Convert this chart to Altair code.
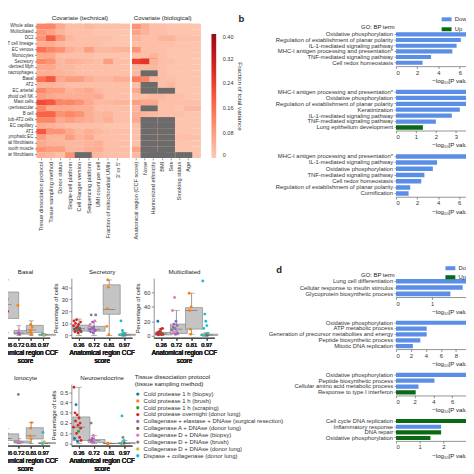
import altair as alt
import pandas as pd

FONT = "Liberation Sans"
INK = "#222222"
AXIS = "#444444"
BLUE = "#5b8ee6"
GREEN = "#0a6a14"
MISSING = "#6b6b6b"
BOXFILL = "#c4c4c4"
BOXLINE = "#7a7a7a"
WHISK = "#6a6a6a"
N = None

# ---------------- heatmap (panel a) ----------------
cell_types = ["Whole atlas", "Multiciliated", "DC2", "T cell lineage", "EC venous", "Monocytes",
              "Secretory", "Monocyte-derived Mph", "Alveolar macrophages", "Basal", "AT2",
              "EC arterial", "Innate lymphoid cell NK", "Mast cells", "Interstitial Mph perivascular",
              "B cell", "Transitional club-AT2 cells", "EC capillary", "AT1", "Lymphatic EC",
              "Adventitial fibroblasts", "Smooth muscle", "Alveolar fibroblasts"]
tech_covariates = ["Tissue dissociation protocol", "Tissue sampling method", "Donor status",
                   "Single-cell platform", "Cell Ranger version", "Sequencing platform",
                   "UMI count per cell", "Fraction of mitochondrial UMIs", "3′ or 5′"]
bio_covariates = ["Anatomical region (CCF score)", "Nose", "Harmonized ethnicity", "BMI", "Sex",
                  "Smoking status", "Age"]
tech_values = [
    [0.12, 0.12, 0.06, 0.02, 0.02, 0.03, 0.02, 0.02, 0.02],
    [0.09, 0.07, 0.04, 0.02, 0.02, 0.02, 0.01, 0.01, 0.01],
    [0.10, 0.19, 0.09, 0.03, 0.02, 0.02, 0.02, 0.02, 0.01],
    [0.05, 0.05, 0.03, 0.02, 0.02, 0.02, 0.02, 0.01, 0.01],
    [0.16, 0.12, 0.10, 0.05, 0.03, 0.08, 0.03, 0.03, 0.04],
    [0.06, 0.06, 0.02, 0.02, 0.02, 0.02, 0.01, 0.01, 0.01],
    [0.12, 0.10, 0.03, 0.05, 0.04, 0.03, 0.02, 0.08, 0.02],
    [0.06, 0.06, 0.03, 0.03, 0.02, 0.02, 0.02, 0.02, 0.02],
    [0.05, 0.05, 0.04, 0.03, 0.02, 0.02, 0.02, 0.02, 0.02],
    [0.16, 0.20, 0.06, 0.08, 0.08, 0.05, 0.03, 0.03, 0.05],
    [0.04, 0.04, 0.03, 0.02, 0.02, 0.02, 0.02, 0.02, 0.02],
    [0.12, 0.08, 0.08, 0.04, 0.05, 0.06, 0.03, 0.02, 0.02],
    [0.08, 0.06, 0.05, 0.05, 0.05, 0.05, 0.06, 0.02, 0.02],
    [0.22, 0.20, 0.12, 0.12, 0.10, 0.06, 0.03, 0.03, 0.04],
    [0.12, 0.06, 0.06, 0.06, 0.05, 0.05, 0.02, 0.02, 0.02],
    [0.18, 0.18, 0.10, 0.12, 0.10, 0.05, 0.03, 0.04, 0.02],
    [0.12, 0.12, 0.06, 0.08, 0.06, 0.05, 0.03, 0.05, 0.02],
    [0.05, 0.04, 0.03, 0.02, 0.02, 0.02, 0.02, 0.01, 0.01],
    [0.20, 0.10, 0.10, 0.06, 0.03, 0.05, 0.03, 0.02, 0.02],
    [0.08, 0.04, 0.04, 0.08, 0.04, 0.06, 0.02, 0.02, 0.02],
    [0.06, 0.04, 0.04, 0.03, 0.03, 0.04, 0.05, 0.02, 0.02],
    [0.10, 0.08, 0.08, 0.03, 0.03, 0.05, 0.05, 0.02, 0.02],
    [0.05, 0.04, 0.02, 0.10, N, 0.04, 0.03, 0.02, 0.02],
]
bio_values = [
    [0.10, 0.05, 0.02, 0.02, 0.01, 0.01, 0.01],
    [0.07, 0.04, 0.02, 0.02, 0.01, 0.01, 0.01],
    [0.04, 0.02, 0.02, 0.04, 0.04, 0.02, 0.02],
    [0.02, 0.02, 0.02, 0.02, 0.02, 0.01, 0.01],
    [0.10, 0.02, 0.02, 0.02, 0.01, 0.01, 0.01],
    [0.02, 0.02, 0.04, 0.02, 0.01, 0.01, 0.01],
    [0.24, 0.26, 0.04, 0.02, 0.02, 0.01, 0.01],
    [0.03, 0.03, 0.03, 0.02, 0.01, 0.01, 0.01],
    [0.03, N, 0.04, 0.02, 0.01, 0.01, 0.01],
    [0.14, 0.12, 0.04, 0.02, 0.02, 0.01, 0.01],
    [0.02, N, 0.04, 0.02, 0.03, 0.01, 0.01],
    [0.06, N, 0.02, N, 0.03, 0.01, 0.01],
    [0.02, 0.02, 0.03, 0.03, 0.02, 0.02, 0.01],
    [0.08, 0.06, 0.06, 0.02, 0.02, 0.02, 0.02],
    [0.04, N, 0.02, 0.02, 0.02, 0.01, 0.03],
    [0.05, 0.04, 0.03, 0.02, 0.02, 0.02, 0.01],
    [0.06, N, 0.03, N, 0.02, 0.01, 0.01],
    [0.02, N, 0.12, N, 0.04, 0.01, 0.01],
    [0.02, N, 0.04, N, 0.02, 0.01, 0.01],
    [0.02, N, 0.02, N, 0.02, 0.02, 0.02],
    [0.02, N, 0.10, N, 0.04, 0.01, 0.01],
    [0.07, N, 0.03, N, 0.02, 0.01, 0.01],
    [0.03, N, N, N, 0.02, N, 0.01],
]
variance_ticks = [0, 0.08, 0.16, 0.24, 0.32, 0.40]

# ---------------- GO bar charts (panels b, d) ----------------
b1_terms = ["Oxidative phosphorylation", "Regulation of establishment of planar polarity",
            "IL-1-mediated signaling pathway", "MHC-I antigen processing and presentation*",
            "TNF-mediated signaling pathway", "Cell redox homeostasis"]
b1_values = [8.6, 6.1, 5.7, 5.3, 3.3, 2.5]
b1_dirs = ["Down"] * 6
b2_terms = ["MHC-I antigen processing and presentation*", "Oxidative phosphorylation",
            "Regulation of establishment of planar polarity", "Keratinization",
            "IL-1-mediated signaling pathway", "TNF-mediated signaling pathway",
            "Lung epithelium development"]
b2_values = [5.2, 4.9, 4.6, 3.2, 2.8, 2.0, 1.35]
b2_dirs = ["Down"] * 6 + ["Up"]
b3_terms = ["MHC-I antigen processing and presentation*", "IL-1-mediated signaling pathway",
            "Oxidative phosphorylation", "TNF-mediated signaling pathway", "Cell redox homeostasis",
            "Regulation of establishment of planar polarity", "Cornification"]
b3_values = [9.4, 3.9, 3.5, 2.7, 2.4, 1.35, 1.2]
b3_dirs = ["Down"] * 7
d1_terms = ["Lung cell differentiation", "Cellular response to insulin stimulus",
            "Glycoprotein biosynthetic process"]
d1_values = [2.4, 1.84, 1.5]
d1_dirs = ["Down"] * 3
d2_terms = ["Oxidative phosphorylation", "ATP metabolic process",
            "Generation of precursor metabolites and energy", "Peptide biosynthetic process",
            "Mitotic DNA replication"]
d2_values = [12.0, 4.1, 4.1, 3.25, 2.25]
d2_dirs = ["Down"] * 5
d3_terms = ["Oxidative phosphorylation", "Peptide biosynthetic process",
            "Cellular amino acid metabolic process", "Response to type I interferon"]
d3_values = [9.0, 4.1, 2.4, 2.1]
d3_dirs = ["Down", "Down", "Down", "Up"]
d4_terms = ["Cell cycle DNA replication", "Inflammatory response", "DNA repair",
            "Oxidative phosphorylation"]
d4_values = [3.4, 1.9, 1.9, 1.45]
d4_dirs = ["Up", "Down", "Up", "Up"]
directions = ["Down", "Up"]

# ---------------- box plots (panel c) ----------------
ccf_levels = ["0.36", "0.72", "0.81", "0.97"]
protocols = ["Cold protease 1 h (biopsy)", "Cold protease 1 h (brush)",
             "Cold protease 1 h (scraping)", "Cold protease overnight (donor lung)",
             "Collagenase + elastase + DNAse (surgical resection)", "Collagenase A + DNAse (donor lung)",
             "Collagenase D + DNAse (biopsy)", "Collagenase D + DNAse (brush)",
             "Collagenase D + DNAse (donor lung)", "Dispase + collagenase (donor lung)"]
protocol_colors = ["#1f77b4", "#ff7f0e", "#2ca02c", "#d62728", "#9467bd", "#8c564b",
                   "#e377c2", "#7f7f7f", "#bcbd22", "#17becf"]

basal_stats = {"lower": [2, 0, 0, 0], "q1": [14, 1, 2.3, 0.1], "median": [25.5, 2, 4.5, 0.4],
               "q3": [36, 4, 8.3, 0.8], "upper": [46, 8, 12, 1.5]}
basal_points = [("0.36", 25, 3), ("0.36", 14, 3), ("0.36", 36, 0), ("0.36", 30, 3), ("0.36", 20, 3),
                ("0.72", 25, 1), ("0.72", 2, 4), ("0.72", 4, 6), ("0.72", 1, 4),
                ("0.81", 3, 1), ("0.81", 9, 1), ("0.81", 4.5, 1), ("0.81", 1, 1), ("0.81", 7, 1),
                ("0.97", 0.5, 9), ("0.97", 1, 9), ("0.97", 0.2, 9), ("0.97", 0, 8)]
secretory_stats = {"lower": [0, 0, 0, 0], "q1": [3.5, 3.5, 17.5, 0], "median": [5.5, 5, 21.5, 0.4],
                   "q3": [8.5, 7.5, 42, 1], "upper": [13.5, 11.5, 46, 2.5]}
secretory_points = [
    ("0.36", 8, 3), ("0.36", 12, 3), ("0.36", 5, 0), ("0.36", 3, 3), ("0.36", 10, 3), ("0.36", 6, 3),
    ("0.36", 13, 3), ("0.36", 4, 2), ("0.36", 7, 3), ("0.36", 2, 3), ("0.36", 9, 3), ("0.36", 5, 3),
    ("0.36", 6, 0), ("0.36", 4, 3), ("0.36", 11, 3), ("0.36", 3, 5),
    ("0.72", 5, 4), ("0.72", 9, 6), ("0.72", 3, 4), ("0.72", 17, 7), ("0.72", 6, 4), ("0.72", 4, 6),
    ("0.72", 11, 4), ("0.72", 2, 4), ("0.72", 7, 4), ("0.72", 5, 7), ("0.72", 12, 6), ("0.72", 4, 4),
    ("0.72", 17, 4),
    ("0.81", 7.5, 1), ("0.81", 22, 1), ("0.81", 46, 1), ("0.81", 40, 1), ("0.81", 0.5, 1),
    ("0.97", 0.5, 9), ("0.97", 12, 9), ("0.97", 1, 8), ("0.97", 0.2, 9), ("0.97", 4, 9), ("0.97", 0, 9),
    ("0.97", 2, 9), ("0.97", 0.3, 5), ("0.97", 1, 9), ("0.97", 0.1, 9), ("0.97", 0.6, 7)]
multiciliated_stats = {"lower": [0, 1, 2, 0], "q1": [1, 3, 9, 0.2], "median": [2.5, 9, 35, 1],
                       "q3": [4.5, 16, 39, 2], "upper": [10, 35, 59, 4]}
multiciliated_points = [
    ("0.36", 2, 3), ("0.36", 4, 3), ("0.36", 20, 0), ("0.36", 1, 3), ("0.36", 3, 3), ("0.36", 6, 3),
    ("0.36", 2.5, 0), ("0.36", 5, 3), ("0.36", 9, 3), ("0.36", 1.5, 3), ("0.36", 3.5, 2),
    ("0.36", 10, 3), ("0.36", 2, 3),
    ("0.72", 8, 4), ("0.72", 35, 6), ("0.72", 12, 4), ("0.72", 4, 6), ("0.72", 16, 4), ("0.72", 53, 6),
    ("0.72", 10, 7), ("0.72", 2, 4), ("0.72", 20, 4), ("0.72", 6, 6), ("0.72", 14, 4), ("0.72", 3, 4),
    ("0.81", 59, 1), ("0.81", 35, 1), ("0.81", 9, 1), ("0.81", 2, 1), ("0.81", 40, 1),
    ("0.97", 1, 9), ("0.97", 76, 9), ("0.97", 0.5, 9), ("0.97", 10, 9), ("0.97", 2, 8), ("0.97", 30, 9),
    ("0.97", 0, 9), ("0.97", 20, 9), ("0.97", 1.5, 7), ("0.97", 14, 9), ("0.97", 0.3, 5), ("0.97", 3, 9)]
ionocyte_stats = {"lower": [0, 0, 0, 0], "q1": [0.06, 0.01, 0.09, 0], "median": [0.1, 0.03, 0.15, 0.005],
                  "q3": [0.19, 0.05, 0.31, 0.02], "upper": [0.3, 0.1, 0.41, 0.05]}
ionocyte_points = [("0.36", 0.1, 3), ("0.36", 0.15, 3), ("0.36", 0.06, 0), ("0.36", 0.2, 3),
                   ("0.72", 0.96, 7), ("0.72", 0.02, 4), ("0.72", 0.04, 6),
                   ("0.81", 0.15, 1), ("0.81", 0.3, 1), ("0.81", 0.09, 1), ("0.81", 0.41, 1),
                   ("0.97", 0.0, 9), ("0.97", 0.22, 9), ("0.97", 0.01, 9), ("0.97", 0.02, 8)]
neuro_stats = {"lower": [0, 0, 0, 0], "q1": [0.03, 0.01, 0, 0], "median": [0.16, 0.03, 0, 0.002],
               "q3": [0.26, 0.04, 0.003, 0.01], "upper": [0.55, 0.08, 0.005, 0.03]}
neuro_points = [
    ("0.36", 0.16, 3), ("0.36", 0.55, 3), ("0.36", 0.05, 0), ("0.36", 0.3, 3), ("0.36", 0.22, 3),
    ("0.36", 0.38, 0), ("0.36", 0.1, 3), ("0.36", 0.28, 3), ("0.36", 0.02, 0), ("0.36", 0.18, 3),
    ("0.36", 0.12, 2), ("0.36", 0.25, 3), ("0.36", 0.06, 3), ("0.36", 0.2, 3), ("0.36", 0.15, 3),
    ("0.36", 0.03, 3),
    ("0.72", 0.03, 4), ("0.72", 0.2, 7), ("0.72", 0.01, 6), ("0.72", 0.05, 4), ("0.72", 0.02, 4),
    ("0.72", 0.08, 6), ("0.72", 0.04, 4), ("0.72", 0.03, 6),
    ("0.81", 0.0, 1), ("0.81", 0.005, 1), ("0.81", 0.0, 1),
    ("0.97", 0.0, 9), ("0.97", 0.27, 9), ("0.97", 0.01, 9), ("0.97", 0.06, 7), ("0.97", 0.0, 8),
    ("0.97", 0.03, 9), ("0.97", 0.005, 5)]


# ====================== builders ======================
def top_title_axis(title, padding, size=6.5, weight="normal", **extra):
    """An x axis on top that only carries a panel title."""
    return alt.Axis(orient="top", labels=False, ticks=False, domain=False, title=title,
                    titlePadding=padding, titleFontSize=size, titleFontWeight=weight,
                    titleColor=INK, **extra)


def heat_chart(values, covs, title, width, show_labels, legend):
    rows = []
    for ct, vals in zip(cell_types, values):
        for cov, v in zip(covs, vals):
            rows.append({"cell": ct, "covariate": cov, "value": v})
    df = pd.DataFrame(rows)
    xscale = alt.Scale(paddingInner=0, paddingOuter=0)
    x_bottom = alt.X("covariate:N", sort=covs, title=None, scale=xscale,
                     axis=alt.Axis(orient="bottom", labelAngle=-90, labelLimit=300, labelPadding=1.5,
                                   tickSize=2, domain=False, labelFontSize=6.0))
    x_top = alt.X("covariate:N", sort=covs, scale=xscale, axis=top_title_axis(title, 3))
    if show_labels:
        yaxis = alt.Axis(labelPadding=1.5, tickSize=2, domain=False, labelFontSize=4.7)
    else:
        yaxis = None
    y = alt.Y("cell:N", sort=cell_types, title=None,
              scale=alt.Scale(paddingInner=0, paddingOuter=0), axis=yaxis)
    filled = alt.Chart(df).transform_filter("isValid(datum.value)").mark_rect().encode(
        x=x_bottom, y=y,
        color=alt.Color("value:Q", scale=alt.Scale(scheme="reds", domain=[0, 0.4]), legend=legend))
    missing = alt.Chart(df).transform_filter("!isValid(datum.value)").mark_rect(
        color=MISSING).encode(x=x_top, y=y)
    return alt.layer(filled, missing).properties(width=width, height=142)


def go_chart(terms, values, dirs, xmax, ticks, height, pad_outer=0.15, align=0.5,
             legend=None, term_title=None, term_title_y=0, panel=None, panel_x=0, panel_y=0):
    df = pd.DataFrame({"term": terms, "value": values, "direction": dirs})
    ax = dict(labelFontSize=6.2, labelLimit=400, tickSize=2, labelPadding=1.5, domain=False)
    if term_title:
        ax.update(title=term_title, titleAngle=0, titleX=-2, titleY=term_title_y,
                  titleAlign="right", titleBaseline="middle", titleFontSize=6.2,
                  titleFontWeight="normal")
    else:
        ax.update(title=None)
    y = alt.Y("term:N", sort=terms,
              scale=alt.Scale(paddingInner=0.28, paddingOuter=pad_outer, align=align),
              axis=alt.Axis(**ax))
    xscale = alt.Scale(domain=[0, xmax], nice=False)
    x = alt.X("value:Q", scale=xscale,
              axis=alt.Axis(orient="bottom", values=ticks, title="−log₁₀[P value]", tickSize=2.5,
                            labelPadding=1, titlePadding=2.5, labelFontSize=6.2, titleFontSize=6.5,
                            titleFontWeight="normal"))
    col = alt.Color("direction:N", scale=alt.Scale(domain=directions, range=[BLUE, GREEN]),
                    legend=legend)
    bars = alt.Chart(df).mark_bar(clip=True).encode(x=x, y=y, color=col)
    ch = bars
    if panel:
        letter = alt.Chart(df).mark_bar(clip=True, opacity=0).encode(
            x=alt.X("value:Q", scale=xscale,
                    axis=top_title_axis(panel, 0, size=10, weight="bold", titleX=panel_x,
                                        titleY=panel_y, titleAlign="left",
                                        titleBaseline="alphabetic")),
            y=y)
        ch = alt.layer(bars, letter)
    return ch.properties(width=118, height=height)


def box_chart(name, stats, points, ydomain, yticks, width, height, y_format=None,
              show_y=True, legend=None):
    sdf = pd.DataFrame(stats)
    sdf["ccf"] = ccf_levels
    pdf = pd.DataFrame(points, columns=["ccf", "pct", "p"])
    pdf["protocol"] = [protocols[i] for i in pdf["p"]]
    pdf["slot"] = pdf.groupby("ccf").cumcount() - pdf.groupby("ccf")["pct"].transform("size") // 2
    band = width / 4.0
    xscale = alt.Scale(domain=ccf_levels, paddingInner=0, paddingOuter=0)
    x = alt.X("ccf:N", sort=ccf_levels, scale=xscale,
              axis=alt.Axis(orient="bottom", labelAngle=0, tickSize=2.5, labelPadding=1.5,
                            title=["Anatomical region CCF", "score"], titlePadding=3,
                            titleFontSize=6.7, titleFontWeight="normal", titleLineHeight=8,
                            labelFontSize=6.0))
    x_top = alt.X("ccf:N", sort=ccf_levels, scale=xscale, axis=top_title_axis(name, 4, size=6.5))
    yscale = alt.Scale(domain=ydomain, nice=False, zero=False)
    if show_y:
        yax = dict(values=yticks, title="Percentage of cells", titleFontSize=6.2,
                   titleFontWeight="normal", tickSize=2.5, labelPadding=1.5, titlePadding=3,
                   labelFontSize=6.0)
        if y_format:
            yax["labelExpr"] = y_format
        yaxis = alt.Axis(**yax)
    else:
        yaxis = None

    def Y(field):
        return alt.Y(field, scale=yscale, axis=yaxis)

    whisk = alt.Chart(sdf).mark_rule(color=WHISK, strokeWidth=0.7).encode(
        x=x, y=Y("lower:Q"), y2="upper:Q")
    cap_lo = alt.Chart(sdf).mark_tick(color=WHISK, size=band * 0.4, thickness=0.7).encode(
        x=x, y=Y("lower:Q"))
    cap_hi = alt.Chart(sdf).mark_tick(color=WHISK, size=band * 0.4, thickness=0.7).encode(
        x=x, y=Y("upper:Q"))
    box = alt.Chart(sdf).mark_bar(width=alt.RelativeBandSize(0.8), fill=BOXFILL, stroke=BOXLINE,
                                  strokeWidth=0.6).encode(x=x, y=Y("q1:Q"), y2="q3:Q")
    med = alt.Chart(sdf).mark_tick(color="#666666", size=band * 0.8, thickness=0.9).encode(
        x=x_top, y=Y("median:Q"))
    pts = alt.Chart(pdf).mark_circle(size=9, opacity=1).encode(
        x=x,
        xOffset=alt.XOffset("slot:O", scale=alt.Scale(domain=list(range(-8, 9)),
                                                      range=[band * 0.15, band * 0.85])),
        y=Y("pct:Q"),
        color=alt.Color("protocol:N", scale=alt.Scale(domain=protocols, range=protocol_colors),
                        legend=legend))
    return alt.layer(whisk, cap_lo, cap_hi, box, med, pts).properties(width=width, height=height)


# ====================== panels ======================
spacer = alt.Chart(pd.DataFrame({"v": [0]})).mark_point(opacity=0).encode(
    x=alt.X("v:Q", axis=None), y=alt.Y("v:Q", axis=None)).properties(width=28, height=1)

heat_tech = heat_chart(tech_values, tech_covariates, "Covariate (technical)", 91, True, None)
heat_bio = heat_chart(
    bio_values, bio_covariates, "Covariate (biological)", 64, False,
    alt.Legend(orient="none", legendX=84, legendY=11, direction="vertical", gradientLength=131,
               gradientThickness=5, title="Fraction of total variance", titleOrient="right",
               titleFontSize=6.6, titleFontWeight="normal", titleAnchor="middle",
               titlePadding=4, labelFontSize=5.8, labelOffset=7, values=variance_ticks,
               labelExpr="datum.value == 0 ? '0' : format(datum.value, '.2f')"))

bar_legend_b = alt.Legend(orient="none", legendX=48, legendY=-10, title=None,
                          symbolType="M-1,-0.4H1V0.4H-1Z", symbolSize=110, symbolStrokeWidth=0,
                          labelFontSize=6.2, rowPadding=1.5, labelOffset=3)
bar_legend_d = alt.Legend(orient="none", legendX=52, legendY=-16, title=None,
                          symbolType="M-1,-0.4H1V0.4H-1Z", symbolSize=110, symbolStrokeWidth=0,
                          labelFontSize=6.2, rowPadding=0.5, labelOffset=3)

b1 = go_chart(b1_terms, b1_values, b1_dirs, 10.5, [0, 2, 4, 6, 8, 10], 45, pad_outer=0.89,
              align=0.86, legend=bar_legend_b, term_title="GO: BP term", term_title_y=3,
              panel="b", panel_x=-167, panel_y=-2.5)
b2 = go_chart(b2_terms, b2_values, b2_dirs, 5.6, [0, 1, 2, 3, 4, 5], 44)
b3 = go_chart(b3_terms, b3_values, b3_dirs, 10.6, [0, 2, 4, 6, 8, 10], 46)

d1 = go_chart(d1_terms, d1_values, d1_dirs, 3.08, [0, 1, 2, 3], 20, legend=bar_legend_d,
              term_title="GO: BP term", term_title_y=-4, panel="d", panel_x=-127, panel_y=-6)
d2 = go_chart(d2_terms, d2_values, d2_dirs, 14.9, [0, 2, 4, 6, 8, 10, 12, 14], 31)
d3 = go_chart(d3_terms, d3_values, d3_dirs, 11.9, [0, 2, 4, 6, 8, 10], 25)
d4 = go_chart(d4_terms, d4_values, d4_dirs, 4.7, [0, 1, 2, 3, 4], 24)

basal = box_chart("Basal", basal_stats, basal_points, [-2, 47.5], [0, 10, 20, 30, 40], 52, 63,
                  show_y=False)
secretory = box_chart("Secretory", secretory_stats, secretory_points, [-2, 47.5],
                      [0, 10, 20, 30, 40], 64, 63)
multiciliated = box_chart("Multiciliated", multiciliated_stats, multiciliated_points, [-3, 80],
                          [0, 20, 40, 60], 64, 63)
ionocyte = box_chart("Ionocyte", ionocyte_stats, ionocyte_points, [-0.04, 1.16],
                     [0, 0.5, 1.0], 52, 65, show_y=False)
neuro = box_chart(
    "Neuroendocrine", neuro_stats, neuro_points, [-0.02, 0.58], [0, 0.1, 0.2, 0.3, 0.4, 0.5], 64, 65,
    y_format="datum.value == 0 ? '0' : format(datum.value, '.1f')",
    legend=alt.Legend(orient="none", legendX=67, legendY=-10,
                      title=["Tissue dissociation protocol", "(tissue sampling method)"],
                      titleFontSize=6.5, titleFontWeight="normal", titlePadding=4,
                      titleLineHeight=6.8, titleAnchor="start", titleAlign="left",
                      labelFontSize=6.3, symbolType="circle", symbolSize=12, symbolStrokeWidth=0,
                      rowPadding=0.25, labelLimit=400, labelOffset=3))

# ====================== layout ======================
def H(*charts, spacing):
    return alt.hconcat(*charts, spacing=spacing, bounds="flush").resolve_scale(color="independent")


def V(*charts, spacing):
    return alt.vconcat(*charts, spacing=spacing, bounds="flush").resolve_scale(color="independent")


heat_row = H(spacer, heat_tech, heat_bio, spacing=10)
b_col = V(b1, b2, b3, spacing=24)
top_row = H(heat_row, b_col, spacing=418)

box_row1 = H(basal, secretory, multiciliated, spacing=23)
box_row2 = H(ionocyte, neuro, spacing=23)
box_grid = V(box_row1, box_row2, spacing=112)
d_col = V(d1, d2, d3, d4, spacing=24)
bottom_row = H(box_grid, d_col, spacing=418)

chart = V(top_row, bottom_row, spacing=269).properties(
    padding={"left": -31, "top": -8, "right": -44, "bottom": -2}
).configure(font=FONT).configure_view(stroke=None).configure_axis(
    labelColor="#333333", titleColor=INK, domainColor=AXIS, tickColor=AXIS, domainWidth=0.6,
    tickWidth=0.6, grid=False
).configure_legend(labelColor="#333333", titleColor=INK).configure_title(color=INK)

chart.save("out.html", embed_options={"renderer": "svg", "actions": False})
